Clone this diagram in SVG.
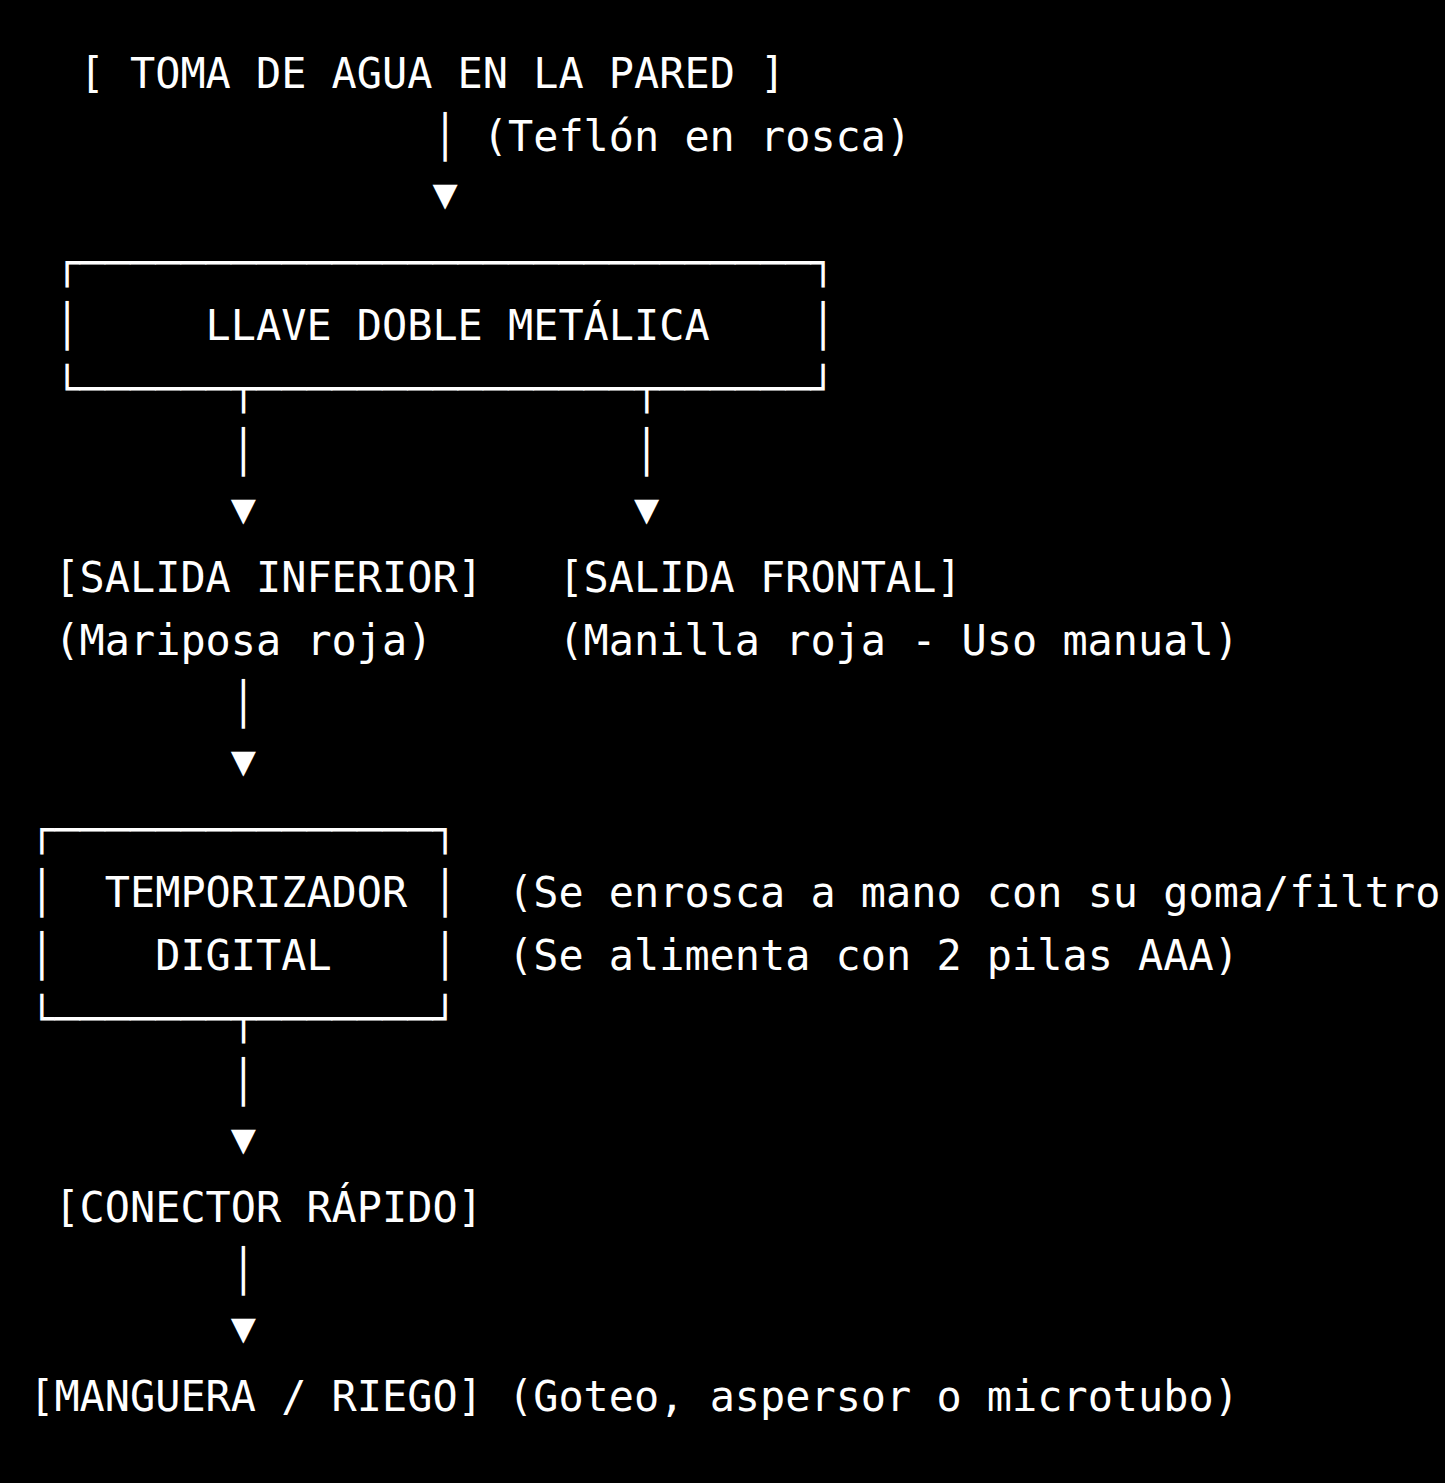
<svg xmlns="http://www.w3.org/2000/svg" width="1445" height="1483" viewBox="0 0 1445 1483">
<style>
text{font-family:"DejaVu Sans Mono","Liberation Mono",monospace;font-size:41.86px;fill:#ffffff;white-space:pre}
</style>
<rect x="0" y="0" width="1445" height="1483" fill="#000000"/>
<g id="toma">
<text x="79.6" y="88">[ TOMA DE AGUA EN LA PARED ]</text>
</g>
<g id="llave">
<text x="54.4" y="277">┌─────────────────────────────┐</text>
<text x="54.4" y="340">│</text>
<text x="205.6" y="340">LLAVE DOBLE METÁLICA</text>
<text x="810.4" y="340">│</text>
<text x="54.4" y="403">└──────┬───────────────┬──────┘</text>
</g>
<g id="salida-inferior">
<text x="54.4" y="592">[SALIDA INFERIOR]</text>
<text x="54.4" y="655">(Mariposa roja)</text>
</g>
<g id="salida-frontal">
<text x="558.4" y="592">[SALIDA FRONTAL]</text>
<text x="558.4" y="655">(Manilla roja - Uso manual)</text>
</g>
<g id="temporizador">
<text x="29.2" y="844">┌───────────────┐</text>
<text x="29.2" y="907">│</text>
<text x="104.8" y="907">TEMPORIZADOR</text>
<text x="432.4" y="907">│</text>
<text x="29.2" y="970">│</text>
<text x="155.2" y="970">DIGITAL</text>
<text x="432.4" y="970">│</text>
<text x="29.2" y="1033">└───────┬───────┘</text>
<text x="508" y="907">(Se enrosca a mano con su goma/filtro)</text>
<text x="508" y="970">(Se alimenta con 2 pilas AAA)</text>
</g>
<g id="conector">
<text x="54.4" y="1222">[CONECTOR RÁPIDO]</text>
</g>
<g id="manguera">
<text x="29.2" y="1411">[MANGUERA / RIEGO] (Goteo, aspersor o microtubo)</text>
</g>
<g id="connectors">
<text x="432.4" y="151">│</text>
<text x="482.8" y="151">(Teflón en rosca)</text>
<text x="432.4" y="208">▼</text>
<text x="230.8" y="466">│</text>
<text x="634" y="466">│</text>
<text x="230.8" y="523">▼</text>
<text x="634" y="523">▼</text>
<text x="230.8" y="718">│</text>
<text x="230.8" y="775">▼</text>
<text x="230.8" y="1096">│</text>
<text x="230.8" y="1153">▼</text>
<text x="230.8" y="1285">│</text>
<text x="230.8" y="1342">▼</text>
</g>
</svg>
